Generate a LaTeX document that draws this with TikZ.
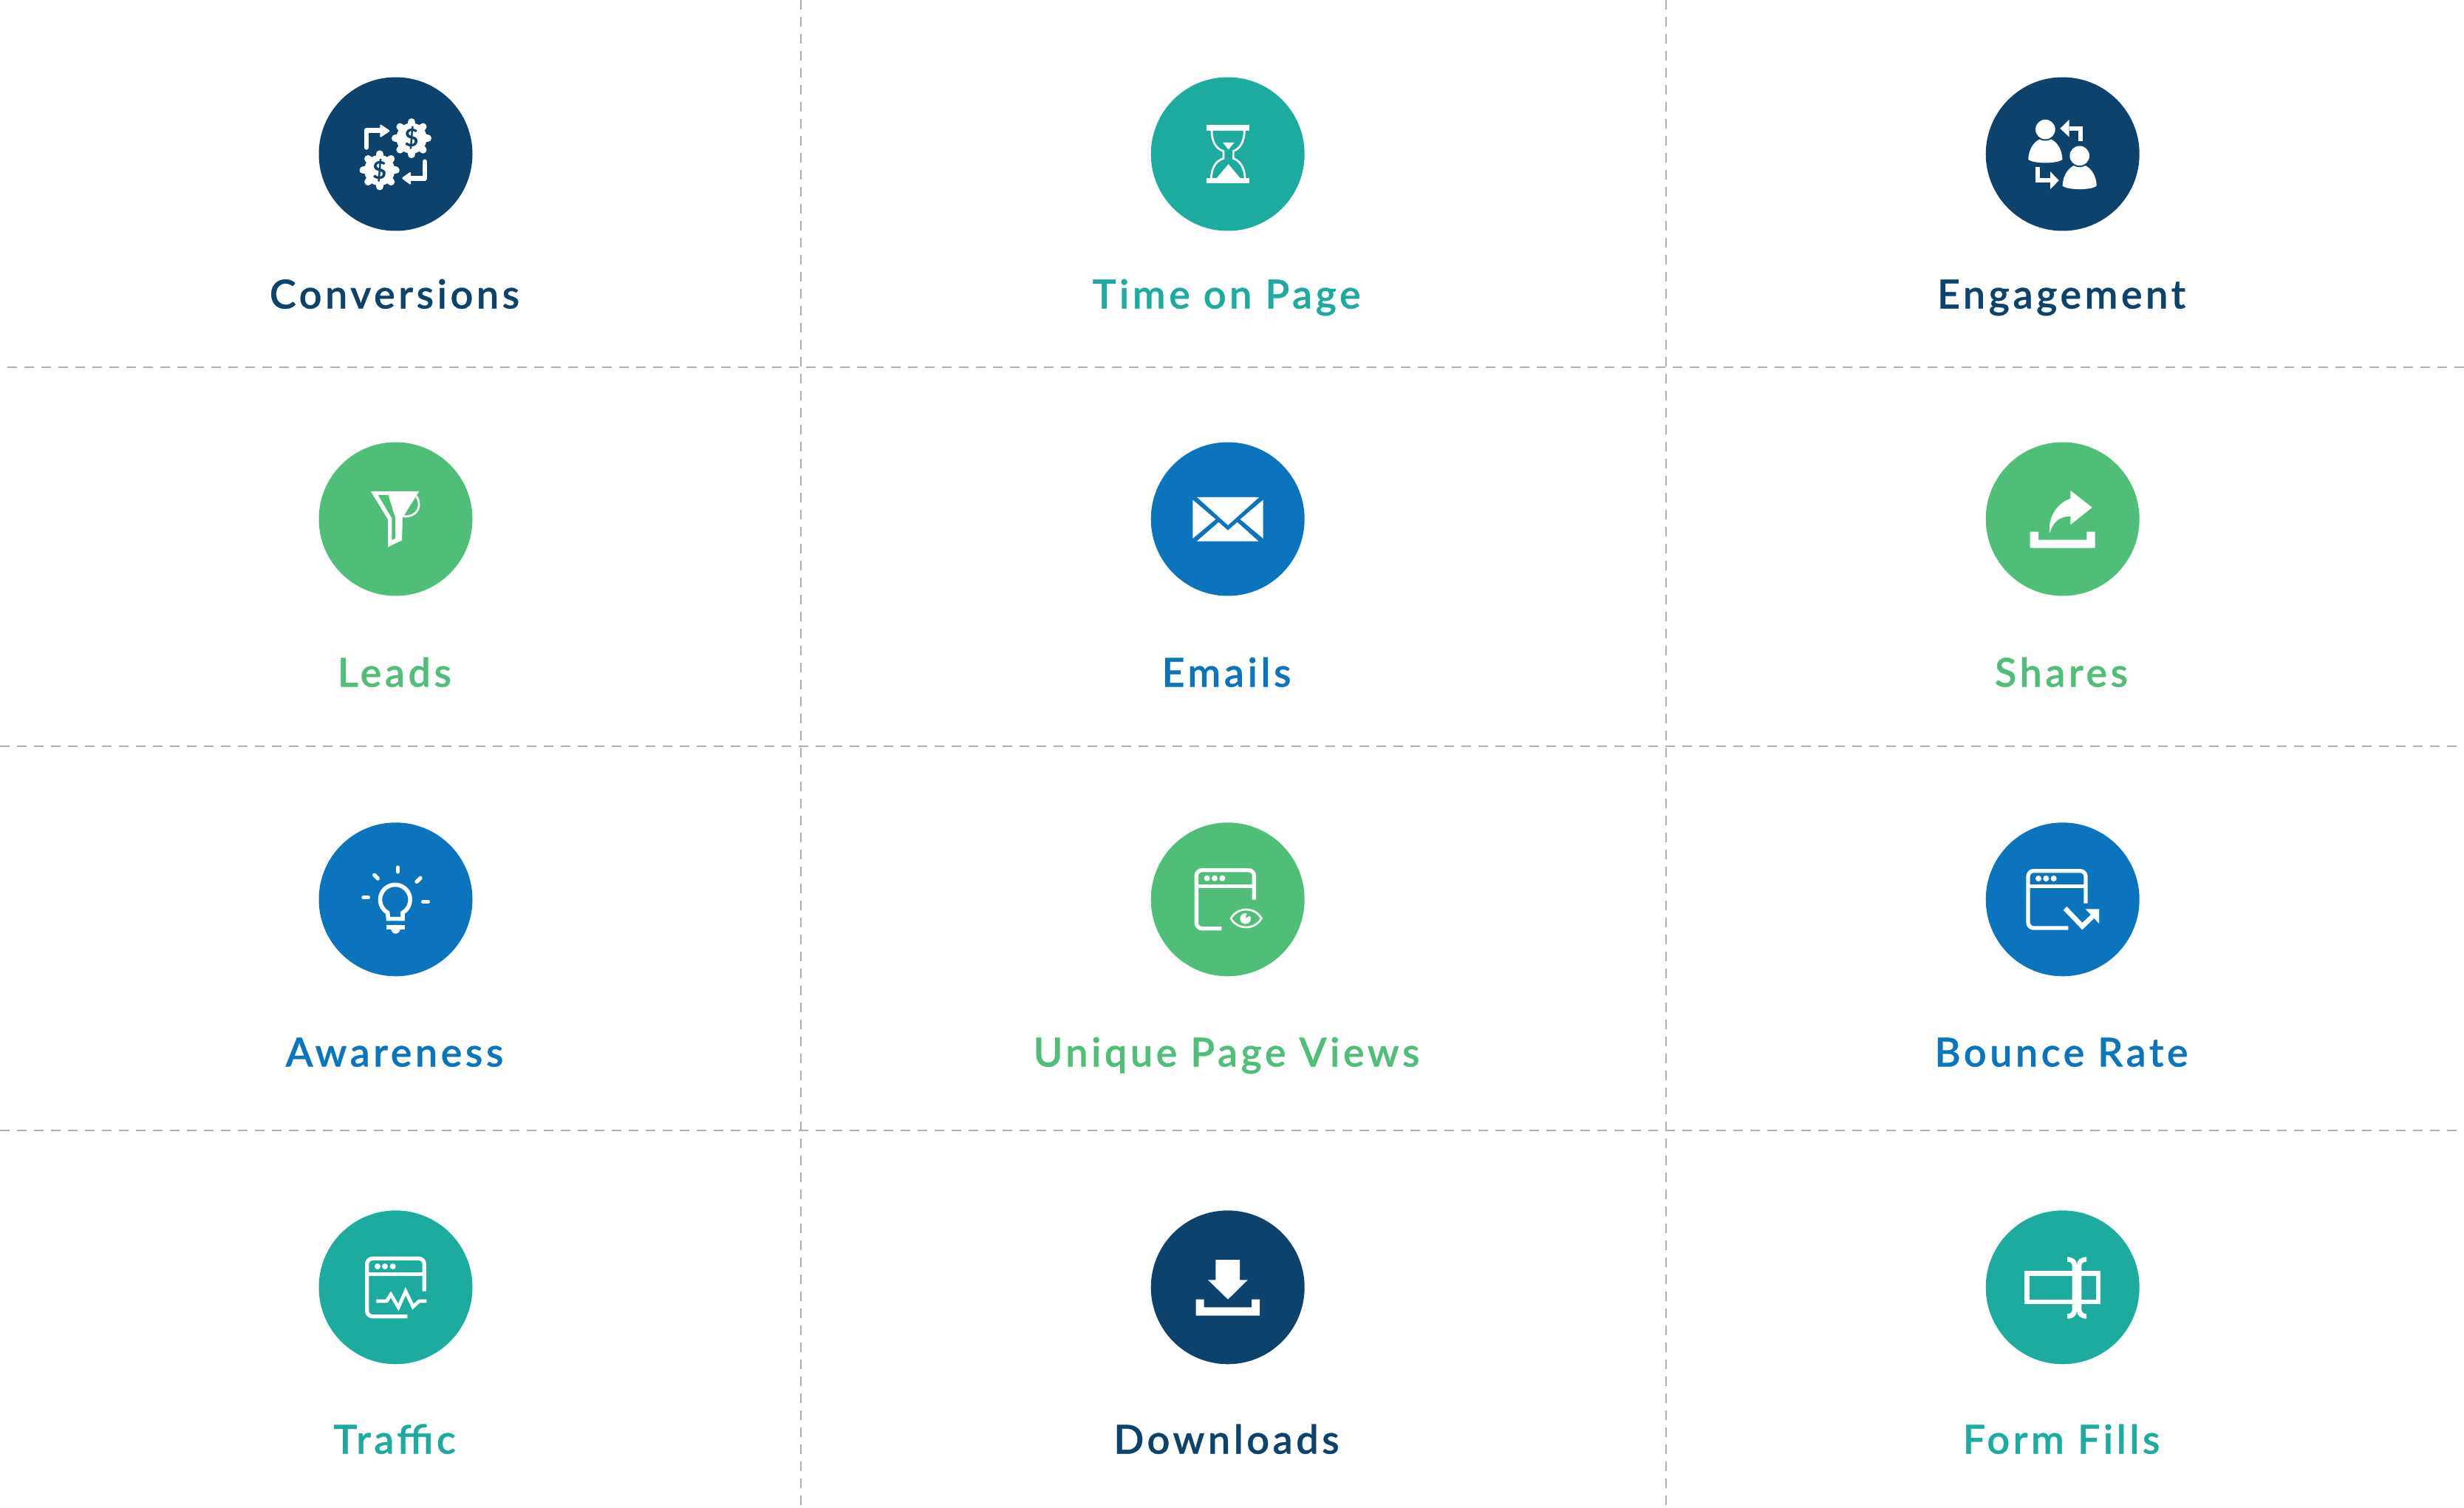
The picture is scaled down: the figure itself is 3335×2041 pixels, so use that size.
\documentclass[tikz,border=0pt]{standalone}
\usepackage{fontspec}
\setmainfont{Lato}
\newfontfamily\lblfont[LetterSpace=8.3,FakeBold=0.6]{Lato Semibold}
\newfontfamily\dollarfont{Lato Bold}
\definecolor{navy}{HTML}{0C426B}
\definecolor{teal2}{HTML}{1DABA0}
\definecolor{green2}{HTML}{50BD79}
\definecolor{blue2}{HTML}{0B74BC}
\definecolor{gridc}{HTML}{B0B0B0}
\tikzset{
  disc/.style={circle,fill=#1,minimum size=208pt,inner sep=0pt,draw=none},
  lbl/.style={anchor=base,text=#1,inner sep=0pt,font=\lblfont\fontsize{54}{60}\selectfont},
  gridline/.style={draw=gridc,line width=2pt,dash pattern=on 13pt off 10pt},
  ico/.style 2 args={shift={(#1,#2)},x=0.33333pt,y=-0.33333pt},
  wht/.style={draw=white,fill=none,line join=miter},
  dollar/.style={text=#1,inner sep=0pt,font=\dollarfont\fontsize{33}{33}\selectfont}
}
\newcommand{\gearicon}[3]{%
  \fill[white] (#1,#2) circle[radius=62];
  \foreach \a in {0,45,...,315}{\draw[white,line width=10pt,line cap=round] (#1,#2) -- ++(\a:66);}
  \node[dollar=navy] (#3) at (#1,#2) {\$};
}
\newcommand{\windowicon}[6]{% left top right bottom botend rightend
  \draw[wht,line width=5.3pt,rounded corners=7.5pt] (#5,#4) -- (#1,#4) -- (#1,#2) -- (#3,#2) -- (#3,#6);
  \draw[wht,line width=5.3pt] (#1,295) -- (#3,295);
}
\begin{document}
\begin{tikzpicture}[x=1pt,y=-1pt]
\useasboundingbox (0,0) rectangle (3335,2041);
% grid
\draw[gridline] (1084,0) -- (1084,2041);
\draw[gridline] (2255,0) -- (2255,2041);
\draw[gridline] (10,496.5) -- (3335,496.5);
\draw[gridline] (0,1010) -- (3335,1010);
\draw[gridline] (0,1529.5) -- (3335,1529.5);
% discs
\node[disc=navy]   (c11) at (535.5,208.5) {};
\node[disc=teal2]  (c12) at (1661.7,208.5) {};
\node[disc=navy]   (c13) at (2791.7,208.5) {};
\node[disc=green2] (c21) at (535.5,702.5) {};
\node[disc=blue2]  (c22) at (1661.7,702.5) {};
\node[disc=green2] (c23) at (2791.7,702.5) {};
\node[disc=blue2]  (c31) at (535.5,1217.3) {};
\node[disc=green2] (c32) at (1661.7,1217.3) {};
\node[disc=blue2]  (c33) at (2791.7,1217.3) {};
\node[disc=teal2]  (c41) at (535.5,1742.3) {};
\node[disc=navy]   (c42) at (1661.7,1742.3) {};
\node[disc=teal2]  (c43) at (2791.7,1742.3) {};
% labels
\node[lbl=navy]   (t11) at (534,417.5) {Conversions};
\node[lbl=teal2]  (t12) at (1660,417.5) {Time on Page};
\node[lbl=navy]   (t13) at (2790,417.5) {Engagement};
\node[lbl=green2] (t21) at (534,929.5) {Leads};
\node[lbl=blue2]  (t22) at (1660,929.5) {Emails};
\node[lbl=green2] (t23) at (2790,929.5) {Shares};
\node[lbl=blue2]  (t31) at (534,1443.5) {Awareness};
\node[lbl=green2] (t32) at (1660,1443.5) {Unique Page Views};
\node[lbl=blue2]  (t33) at (2790,1443.5) {Bounce Rate};
\node[lbl=teal2]  (t41) at (534,1967.5) {Traffic};
\node[lbl=navy]   (t42) at (1660,1967.5) {Downloads};
\node[lbl=teal2]  (t43) at (2790,1967.5) {Form Fills};
% Conversions
\begin{scope}[ico={420}{90.5}]
  \draw[white,line width=6.7pt,line cap=round,line join=round] (228,327) -- (228,257) -- (290,257);
  \fill[white,rounded corners=1.5pt] (283,232) -- (325,260) -- (283,288) -- cycle;
  \draw[white,line width=6.7pt,line cap=round,line join=round] (465,385) -- (465,452) -- (405,452);
  \fill[white,rounded corners=1.5pt] (408,425) -- (370,452) -- (408,480) -- cycle;
  \gearicon{411}{290}{d1}
  \gearicon{281}{420}{d2}
\end{scope}
% Time on Page
\begin{scope}[ico={1540}{90.5}]
  \fill[white] (279,237) rectangle (452,260);
  \fill[white] (279,451) rectangle (452,474);
  \draw[wht,line width=2.7pt] (300,260) .. controls (300,305) and (320,335) .. (348,342) -- (348,372) .. controls (320,380) and (300,405) .. (298,451);
  \draw[wht,line width=2.7pt] (433,260) .. controls (433,305) and (412,335) .. (388,342) -- (388,372) .. controls (412,380) and (433,405) .. (435,451);
  \fill[white] (345,307) -- (392,307) -- (368,336) -- cycle;
  \fill[white] (320,452) -- (368,395) -- (416,452) -- cycle;
\end{scope}
% Engagement
\begin{scope}[ico={2670}{90.5}]
  \foreach \dx/\dy in {0/0,139/107}{
    \begin{scope}[shift={(\dx,\dy)}]
      \fill[white] (226,377) .. controls (226,330) and (255,290) .. (295,288) .. controls (335,290) and (364,330) .. (364,377) .. controls (340,394) and (250,394) .. (226,377) -- cycle;
      \fill[navy] (295,254) circle[radius=46];
      \fill[white] (295,254) circle[radius=40];
    \end{scope}
  }
  \draw[wht,line width=6pt] (392,250) -- (438,250) -- (438,302);
  \fill[white] (392,214) -- (355,250) -- (392,285) -- cycle;
  \draw[wht,line width=6pt] (265,408) -- (265,461) -- (316,461);
  \fill[white] (315,425) -- (350,461) -- (315,497) -- cycle;
\end{scope}
% Leads
\begin{scope}[ico={420}{585.5}]
  \fill[white] (245,238) -- (442,238) -- (375,345) -- (372,437) -- (315,465) -- (315,352) -- cycle;
  \fill[green2] (275,253) -- (316,253) -- (345,345) -- (345,430) -- (331,436) -- (331,347) -- cycle;
  \draw[wht,line width=2.8pt] (430,258) .. controls (455,290) and (440,345) .. (378,340);
\end{scope}
% Emails
\begin{scope}[ico={1540}{585.5}]
  \fill[white] (240,262) -- (493,262) -- (366,376) -- cycle;
  \fill[white] (223,273) -- (316,352) -- (223,430) -- cycle;
  \fill[white] (509,273) -- (416,352) -- (509,430) -- cycle;
  \fill[white] (240,441) -- (328,364) -- (366,397) -- (404,364) -- (490,441) -- cycle;
\end{scope}
% Shares
\begin{scope}[ico={2670}{585.5}]
  \fill[white] (233,402) -- (267,402) -- (267,435) -- (463,435) -- (463,402) -- (497,402) -- (497,468) -- (233,468) -- cycle;
  \fill[white] (397,235) -- (485,304) -- (397,374) -- (397,340) .. controls (350,340) and (325,365) .. (312,410) .. controls (305,340) and (345,285) .. (397,268) -- cycle;
\end{scope}
% Awareness
\begin{scope}[ico={420}{1101}]
  \draw[white,line width=5.3pt,line cap=round] (355,219) -- (355,237);
  \draw[white,line width=5.3pt,line cap=round] (260,250) -- (274,264);
  \draw[white,line width=5.3pt,line cap=round] (447,262) -- (432,277);
  \draw[white,line width=5.3pt,line cap=round] (216,341) -- (235,341);
  \draw[white,line width=5.3pt,line cap=round] (458,358) -- (478,358);
  \draw[wht,line width=5.6pt] (375,403) arc[start angle=60,end angle=-240,radius=61] -- (316.5,428) -- (375,428) -- cycle;
  \fill[white] (310,453) rectangle (383,470);
  \fill[white] (346.5,470) circle[radius=18];
\end{scope}
% Unique Page Views
\begin{scope}[ico={1540}{1101}]
  \windowicon{238}{230}{472}{467}{340}{350}
  \foreach \x in {281,312,343}{\fill[white] (\x,263) circle[radius=12];}
  \draw[wht,line width=2.7pt] (378,426) .. controls (405,378) and (475,378) .. (502,426) .. controls (475,474) and (405,474) .. (378,426) -- cycle;
  \fill[white] (437,427) circle[radius=22];
  \fill[green2] (437,424) -- (445,402) -- (462,412) -- cycle;
\end{scope}
% Bounce Rate
\begin{scope}[ico={2670}{1101}]
  \windowicon{225}{233}{459}{465}{388}{365}
  \foreach \x in {267,298,329}{\fill[white] (\x,264) circle[radius=12];}
  \draw[wht,line width=6.7pt] (375,385) -- (445,458) -- (495,410);
  \fill[white] (458,388) -- (513,388) -- (513,447) -- cycle;
\end{scope}
% Traffic
\begin{scope}[ico={420}{1626}]
  \windowicon{230}{232}{463}{467}{394}{365}
  \foreach \x in {273,303,335}{\fill[white] (\x,264) circle[radius=12];}
  \draw[wht,line width=4.7pt] (268,405) -- (310,405) -- (327,378) -- (358,430) -- (387,365) -- (417,428) -- (442,405) -- (472,405);
\end{scope}
% Downloads
\begin{scope}[ico={1540}{1626}]
  \fill[white] (316,237) -- (414,237) -- (414,319) -- (446,319) -- (366,398) -- (285,319) -- (316,319) -- cycle;
  \fill[white] (236,398) -- (269,398) -- (269,430) -- (462,430) -- (462,398) -- (495,398) -- (495,464) -- (236,464) -- cycle;
\end{scope}
% Form Fills
\begin{scope}[ico={2670}{1626}]
  \draw[wht,line width=6.3pt] (220.5,292.5) rectangle (509.5,408);
  \fill[white] (384,226) .. controls (408,226) and (423,238) .. (423,258) .. controls (423,238) and (438,226) .. (462,226) -- (462,245) .. controls (450,245) and (442,250) .. (442,262) -- (442,438) .. controls (442,450) and (450,457) .. (462,457) -- (462,476) .. controls (438,476) and (423,464) .. (423,444) .. controls (423,464) and (408,476) .. (384,476) -- (384,457) .. controls (396,457) and (404,450) .. (404,438) -- (404,262) .. controls (404,250) and (396,245) .. (384,245) -- cycle;
\end{scope}
\end{tikzpicture}
\end{document}
